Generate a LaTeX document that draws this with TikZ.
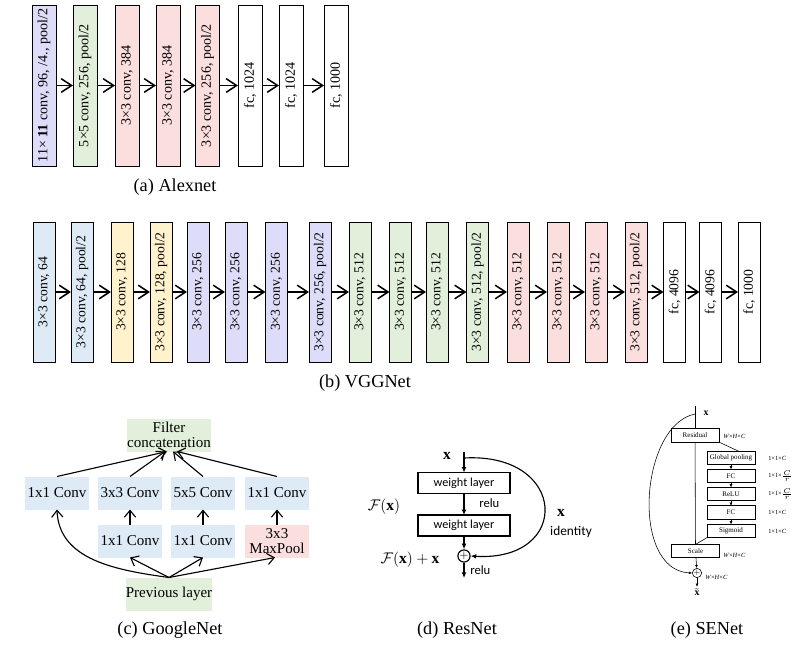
\documentclass[tikz,border=0pt]{standalone}
\usepackage{fontspec}
\setmainfont{Liberation Serif}
\newfontfamily\resfont{Carlito}
\usepackage{amssymb}
\usepackage{tikz}
\usepackage{tkz-graph}
\usetikzlibrary{shapes,arrows,arrows.meta}
\definecolor{lav}{RGB}{221,221,250}
\definecolor{lgreen}{RGB}{226,239,218}
\definecolor{lpink}{RGB}{251,222,222}
\definecolor{lblue}{RGB}{222,235,247}
\definecolor{lyellow}{RGB}{255,242,204}
\newcommand{\sz}[1]{\rmfamily\fontsize{#1}{#1}\selectfont}
\newcommand{\layer}[5]{%
  \Vertex[x=#1,y=#2,L={#4},style={fill=#3}]{#5}
}
\tikzset{
  stack/.style    = {draw, rectangle, rotate=90, inner sep=0pt, line width=0.6pt},
  alexbox/.style  = {stack, minimum width=4.025cm, minimum height=0.6cm, font=\sz{10}},
  vggbox/.style   = {stack, minimum width=3.5cm, minimum height=0.55cm, font=\sz{9.7}},
  incbox/.style   = {rectangle, inner sep=0pt, minimum width=1.575cm, minimum height=0.825cm,
                     align=center, font=\rmfamily\fontsize{10.7}{11}\selectfont},
  wbox/.style     = {draw, rectangle, line width=0.9pt, inner sep=0pt, minimum width=2.3cm,
                     minimum height=0.52cm, font=\resfont\fontsize{8.7}{9}\selectfont},
  sebox/.style    = {draw, rectangle, line width=0.7pt, inner sep=0pt, minimum width=1.2cm,
                     minimum height=0.33cm, font=\sz{5}},
  subcap/.style   = {font=\sz{13}},
  chain/.style    = {line width=1.1pt, -{Straight Barb[length=2.6mm,width=3.4mm]}},
  incarrow/.style = {line width=0.8pt, -{Straight Barb[length=1.7mm,width=2.8mm]}},
  resarrow/.style = {line width=0.8pt, -{Latex[length=1.4mm,width=1.2mm]}},
  seline/.style   = {line width=0.4pt},
  searrow/.style  = {seline, -{Latex[length=0.8mm,width=0.7mm]}},
  tinylabel/.style= {font=\sz{4.5}, inner sep=0pt, anchor=west},
  reslabel/.style = {font=\resfont\fontsize{9}{9}\selectfont, inner sep=0pt, anchor=west}
}

\begin{document}
\begin{tikzpicture}[x=0.025cm, y=-0.025cm]
	\useasboundingbox (0,0) rectangle (799,645);
	% (a) Alexnet
	\tikzset{VertexStyle/.style={alexbox}}
	\layer{44}{85.5}{lav}{11× \textbf{11} conv, 96, /4., pool/2}{A1}
	\layer{85}{85.5}{lgreen}{5×5 conv, 256, pool/2}{A2}
	\layer{127}{85.5}{lpink}{3×3 conv, 384}{A3}
	\layer{168}{85.5}{lpink}{3×3 conv, 384}{A4}
	\layer{207.5}{85.5}{lpink}{3×3 conv, 256, pool/2}{A5}
	\layer{250}{85.5}{white}{fc, 1024}{A6}
	\layer{291}{85.5}{white}{fc, 1024}{A7}
	\layer{336}{85.5}{white}{fc, 1000}{A8}
	\tikzstyle{EdgeStyle}=[chain]
	\Edge(A1)(A2)
	\Edge(A2)(A3)
	\Edge(A3)(A4)
	\Edge(A4)(A5)
	\Edge(A5)(A6)
	\Edge(A6)(A7)
	\Edge(A7)(A8)
	\node[subcap] (CA) at (175,187) {(a) Alexnet};
	% (b) VGGNet
	\tikzset{VertexStyle/.style={vggbox}}
	\layer{44}{292}{lblue}{3×3 conv, 64}{V1}
	\layer{82}{292}{lblue}{3×3 conv, 64, pool/2}{V2}
	\layer{122}{292}{lyellow}{3×3 conv, 128}{V3}
	\layer{161}{292}{lyellow}{3×3 conv, 128, pool/2}{V4}
	\layer{198}{292}{lav}{3×3 conv, 256}{V5}
	\layer{236}{292}{lav}{3×3 conv, 256}{V6}
	\layer{276.5}{292}{lav}{3×3 conv, 256}{V7}
	\layer{320}{292}{lav}{3×3 conv, 256, pool/2}{V8}
	\layer{360}{292}{lgreen}{3×3 conv, 512}{V9}
	\layer{400.5}{292}{lgreen}{3×3 conv, 512}{V10}
	\layer{437}{292}{lgreen}{3×3 conv, 512}{V11}
	\layer{477.5}{292}{lgreen}{3×3 conv, 512, pool/2}{V12}
	\layer{518}{292}{lpink}{3×3 conv, 512}{V13}
	\layer{558}{292}{lpink}{3×3 conv, 512}{V14}
	\layer{596}{292}{lpink}{3×3 conv, 512}{V15}
	\layer{636}{292}{lpink}{3×3 conv, 512, pool/2}{V16}
	\layer{674.5}{292}{white}{fc, 4096}{V17}
	\layer{710.5}{292}{white}{fc, 4096}{V18}
	\layer{749}{292}{white}{fc, 1000}{V19}
	\Edge(V1)(V2)
	\Edge(V2)(V3)
	\Edge(V3)(V4)
	\Edge(V4)(V5)
	\Edge(V5)(V6)
	\Edge(V6)(V7)
	\Edge(V7)(V8)
	\Edge(V8)(V9)
	\Edge(V9)(V10)
	\Edge(V10)(V11)
	\Edge(V11)(V12)
	\Edge(V12)(V13)
	\Edge(V13)(V14)
	\Edge(V14)(V15)
	\Edge(V15)(V16)
	\Edge(V16)(V17)
	\Edge(V17)(V18)
	\Edge(V18)(V19)
	\node[subcap] (CB) at (365,383) {(b) VGGNet};
	% (c) GoogleNet
	\tikzset{VertexStyle/.style={incbox}}
	\layer{169}{435}{lgreen,minimum width=2.225cm,minimum height=0.75cm}{Filter\\concatenation}{FC}
	\layer{57}{493}{lblue}{1x1 Conv}{G1}
	\layer{130}{493}{lblue}{3x3 Conv}{G2}
	\layer{203}{493}{lblue}{5x5 Conv}{G3}
	\layer{277}{493}{lblue}{1x1 Conv}{G4}
	\layer{130}{541}{lblue,minimum height=0.875cm}{1x1 Conv}{G5}
	\layer{203}{541}{lblue,minimum height=0.875cm}{1x1 Conv}{G6}
	\layer{277}{541}{lpink,minimum height=0.875cm,font=\rmfamily\fontsize{10.7}{13.5}\selectfont}{3x3\\MaxPool}{G7}
	\layer{169}{594}{lgreen,minimum width=2.225cm,minimum height=0.525cm}{Previous layer}{PL}
	\draw[incarrow] (G1.north) -- ([xshift=-0.05cm]FC.south);
	\draw[incarrow] (G2.north) -- ([xshift=-0.1cm]FC.south);
	\draw[incarrow] (G3.north) -- ([xshift=0.1cm]FC.south);
	\draw[incarrow] (G4.north) -- ([xshift=0.2cm]FC.south);
	\draw[incarrow] (G5) -- (G2);
	\draw[incarrow] (G6) -- (G3);
	\draw[incarrow] (G7) -- (G4);
	\draw[incarrow] (PL.north) -- (G5.south);
	\draw[incarrow] (PL.north) -- (G6.south);
	\draw[incarrow] (PL.north) -- ([xshift=-0.05cm]G7.south);
	\draw[incarrow] (PL.north) to[out=172,in=-88] (G1.south);
	\node[subcap] (CC) at (170,630) {(c) GoogleNet};
	% (d) ResNet
	\node[font=\sz{11}] (RX) at (447,456) {$\mathbf{x}$};
	\coordinate (RT) at (464,452);
	\coordinate (RB) at (464,458);
	\coordinate (RE) at (464,578);
	\tikzset{VertexStyle/.style={wbox}}
	\Vertex[x=464,y=483,L={weight layer}]{W1}
	\Vertex[x=464,y=525.5,L={weight layer}]{W2}
	\node[draw, circle, line width=0.8pt, inner sep=0pt, minimum size=0.3cm, font=\sz{8}] (RP) at (464,556) {$+$};
	\draw[resarrow] (RT) -- (W1);
	\draw[resarrow] (W1) -- (W2);
	\draw[resarrow] (W2) -- (RP);
	\draw[resarrow] (RP) -- (RE);
	\draw[resarrow] (RB) .. controls (568,452) and (572,562) .. (RP.east);
	\node[reslabel] (R1) at (479,503) {relu};
	\node[reslabel] (R2) at (470,570) {relu};
	\node[font=\sz{11}] (FX) at (384,507) {$\mathcal{F}(\mathbf{x})$};
	\node[font=\sz{11}] (FXX) at (410,560) {$\mathcal{F}(\mathbf{x})+\mathbf{x}$};
	\node[font=\sz{11}] (IX) at (561,513) {$\mathbf{x}$};
	\node[font=\resfont\fontsize{9.5}{10}\selectfont] (ID) at (571,532) {identity};
	\node[subcap] (CD) at (457,630) {(d) ResNet};
	% (e) SENet
	\node[font=\sz{7}] (SX) at (706,413) {$\mathbf{x}$};
	\coordinate (ST) at (695,406);
	\coordinate (SB) at (695,414);
	\tikzset{VertexStyle/.style={sebox}}
	\Vertex[x=695,y=435.5,L={Residual},style={minimum width=1.1cm}]{R}
	\Vertex[x=731,y=458,L={Global pooling}]{GP}
	\Vertex[x=731,y=476,L={FC}]{F1}
	\Vertex[x=731,y=494,L={ReLU}]{RL}
	\Vertex[x=731,y=512.5,L={FC}]{F2}
	\Vertex[x=731,y=531,L={Sigmoid}]{SG}
	\Vertex[x=695.5,y=551,L={Scale},style={minimum width=1.125cm,minimum height=0.35cm}]{SC}
	\node[draw, circle, line width=0.4pt, inner sep=0pt, minimum size=0.2cm, font=\sz{5}] (SP) at (697,573) {$+$};
	\node[font=\sz{7}, inner sep=1pt] (SXT) at (697,592) {$\tilde{\mathbf{x}}$};
	\draw[seline] (ST) -- (R);
	\draw[seline] (R) -- (SC);
	\draw[seline] (R.south east) -- ([xshift=0.2cm]GP.north);
	\draw[seline] (SG.south west) -- (SC.north);
	\draw[searrow] (GP) -- (F1);
	\draw[searrow] (F1) -- (RL);
	\draw[searrow] (RL) -- (F2);
	\draw[searrow] (F2) -- (SG);
	\draw[searrow] (SC) -- (SP);
	\draw[searrow] (SP) -- (SXT);
	\draw[searrow] (SB) .. controls (640,425) and (630,570) .. (SP.west);
	\node[tinylabel] (D0) at (723,436) {\textit{W}×\textit{H}×\textit{C}};
	\node[tinylabel] (D1) at (768,458) {1×1×\textit{C}};
	\node[tinylabel] (D2) at (768,476) {1×1×$\frac{C}{r}$};
	\node[tinylabel] (D3) at (768,494) {1×1×$\frac{C}{r}$};
	\node[tinylabel] (D4) at (768,512.5) {1×1×\textit{C}};
	\node[tinylabel] (D5) at (768,531) {1×1×\textit{C}};
	\node[tinylabel] (D6) at (723,555) {\textit{W}×\textit{H}×\textit{C}};
	\node[tinylabel] (D7) at (705,577) {\textit{W}×\textit{H}×\textit{C}};
	\node[subcap] (CE) at (707,630) {(e) SENet};
\end{tikzpicture}
\end{document}
